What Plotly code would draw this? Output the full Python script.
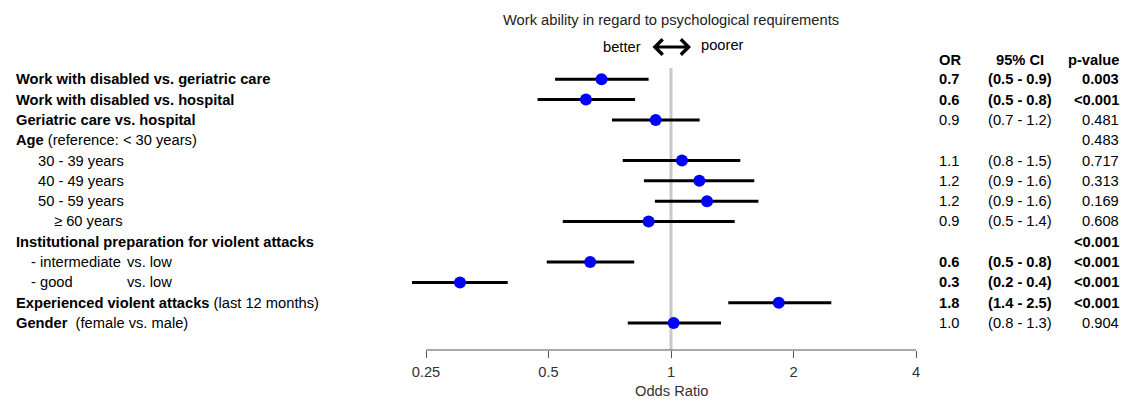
import math
import plotly.graph_objects as go

# ---- data -------------------------------------------------------------
row_labels = [
    "<b>Work with disabled vs. geriatric care</b>",
    "<b>Work with disabled vs. hospital</b>",
    "<b>Geriatric care vs. hospital</b>",
    "<b>Age</b> (reference: &lt; 30 years)",
    "30 - 39 years",
    "40 - 49 years",
    "50 - 59 years",
    "≥ 60 years",
    "<b>Institutional preparation for violent attacks</b>",
    "- intermediate",
    "- good",
    "<b>Experienced violent attacks</b> (last 12 months)",
    "<b>Gender</b>  (female vs. male)",
]
row_compare = ["", "", "", "", "", "", "", "", "", "vs. low", "vs. low", "", ""]
label_x_px = [14, 14, 14, 14, 36, 36, 36, 52, 14, 29, 29, 14, 14]

odds_ratio = [0.675, 0.618, 0.917, None, 1.064, 1.174, 1.226, 0.881, None, 0.633, 0.303, 1.84, 1.015]
ci_low = [0.519, 0.470, 0.716, None, 0.761, 0.858, 0.913, 0.542, None, 0.495, 0.231, 1.383, 0.783]
ci_high = [0.881, 0.816, 1.176, None, 1.480, 1.602, 1.64, 1.434, None, 0.812, 0.397, 2.477, 1.327]
p_values = ["0.003", "<0.001", "0.481", "0.483", "0.717", "0.313", "0.169", "0.608",
            "<0.001", "<0.001", "<0.001", "<0.001", "0.904"]
significant = [True, True, False, False, False, False, False, False, True, True, True, True, False]

tick_values = [0.25, 0.5, 1, 2, 4]
tick_labels = ["0.25", "0.5", "1", "2", "4"]

# ---- geometry ----------------------------------------------------------
W, H = 1123, 402
FONT = "Liberation Sans, Arial, sans-serif"
FS = 14.7
axis_left_px, axis_right_px = 426, 916
x_lo, x_hi = 0.2, 5.0
px_per_dec = (axis_right_px - axis_left_px) / (math.log10(tick_values[-1]) - math.log10(tick_values[0]))
dom_left = axis_left_px + px_per_dec * (math.log10(x_lo) - math.log10(tick_values[0]))
dom_right = axis_right_px + px_per_dec * (math.log10(x_hi) - math.log10(tick_values[-1]))

row0_px, row_step = 79.3, 20.31
plot_top_px, axis_px = 68, 350
y_top = (plot_top_px - row0_px) / row_step
y_bot = (axis_px - row0_px) / row_step

n = len(row_labels)
rows = list(range(n))

fig = go.Figure()

# reference line at OR = 1
fig.add_trace(go.Scatter(
    x=[1, 1], y=[y_top, y_bot], mode="lines",
    line=dict(color="#c8c8c8", width=3), hoverinfo="skip", showlegend=False,
))

# estimates with confidence intervals
pts = [i for i in rows if odds_ratio[i] is not None]
fig.add_trace(go.Scatter(
    x=[odds_ratio[i] for i in pts],
    y=pts,
    mode="markers",
    marker=dict(color="#0000ff", size=12, line=dict(width=0)),
    error_x=dict(
        type="data", symmetric=False,
        array=[ci_high[i] - odds_ratio[i] for i in pts],
        arrayminus=[odds_ratio[i] - ci_low[i] for i in pts],
        color="black", thickness=3, width=0,
    ),
    showlegend=False,
))

ann = []


def txt(text, x_px, y, xanchor="left", yref="y", size=FS, color="black"):
    ann.append(dict(
        text=text, x=x_px / W, xref="paper", y=y, yref=yref,
        xanchor=xanchor, yanchor="middle", showarrow=False,
        font=dict(family=FONT, size=size, color=color),
    ))


for i in rows:
    txt(row_labels[i], label_x_px[i], i)
    if row_compare[i]:
        txt(row_compare[i], 125, i)
    b0, b1 = ("<b>", "</b>") if significant[i] else ("", "")
    if odds_ratio[i] is not None:
        txt(f"{b0}{odds_ratio[i]:.1f}{b1}", 937, i)
        txt(f"{b0}({ci_low[i]:.1f} - {ci_high[i]:.1f}){b1}", 1019.5, i, xanchor="center")
    p_txt = p_values[i].replace("<", "&lt;")
    txt(f"{b0}{p_txt}{b1}", 1121, i, xanchor="right")

# column headers
txt("<b>OR</b>", 937, 1 - 60 / H, yref="paper")
txt("<b>95% CI</b>", 1019.5, 1 - 60 / H, xanchor="center", yref="paper")
txt("<b>p-value</b>", 1121, 1 - 60 / H, xanchor="right", yref="paper")

# titles
txt("Work ability in regard to psychological requirements", 671, 1 - 20 / H,
    xanchor="center", yref="paper", color="#222222")
txt("better", 643, 1 - 47 / H, xanchor="right", yref="paper")
txt("poorer", 699, 1 - 45 / H, xanchor="left", yref="paper")
txt("Odds Ratio", 671, 1 - 391 / H, xanchor="center", yref="paper", color="#333333")

# double-headed arrow between "better" and "poorer"
ann.append(dict(
    text="", x=691 / W, xref="paper", y=1 - 47 / H, yref="paper",
    ax=-40, ay=0, axref="pixel", ayref="pixel",
    showarrow=True, arrowside="end+start", arrowhead=4, arrowsize=1,
    arrowwidth=3, arrowcolor="black", standoff=0, startstandoff=0,
))

fig.update_layout(
    width=W, height=H,
    margin=dict(l=0, r=0, t=0, b=0),
    paper_bgcolor="white", plot_bgcolor="white",
    font=dict(family=FONT, size=FS, color="black"),
    annotations=ann,
    shapes=[dict(
        type="line", xref="x", yref="paper",
        x0=tick_values[0], x1=tick_values[-1],
        y0=1 - axis_px / H, y1=1 - axis_px / H,
        line=dict(color="#555555", width=1),
    )],
    xaxis=dict(
        type="log", domain=[dom_left / W, dom_right / W],
        range=[math.log10(x_lo), math.log10(x_hi)],
        tickvals=tick_values, ticktext=tick_labels,
        ticks="outside", ticklen=7, tickwidth=1, tickcolor="#555555",
        tickfont=dict(family=FONT, size=FS, color="#333333"),
        ticklabelstandoff=1,
        showline=False, showgrid=False, zeroline=False, fixedrange=True,
    ),
    yaxis=dict(
        domain=[1 - axis_px / H, 1 - plot_top_px / H],
        range=[y_bot, y_top],
        visible=False, showgrid=False, zeroline=False, fixedrange=True,
    ),
)

fig.write_html("out.html")
